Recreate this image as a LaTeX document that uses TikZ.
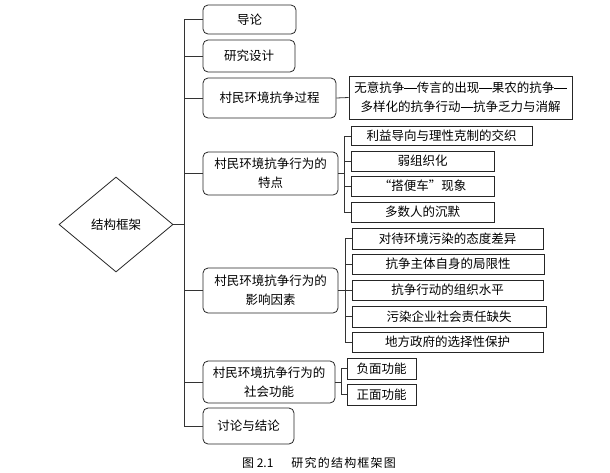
\documentclass[tikz,border=0pt]{standalone}
\usepackage{fontspec}
\newfontfamily\cjk{Noto Sans CJK SC}
\usetikzlibrary{shapes.geometric,shadows}
\newcommand\fwdash{\makebox[1em]{\rule[0.33em]{0.98em}{0.055em}}}
\begin{document}
\begin{tikzpicture}[x=1pt,y=-1pt,
  every node/.style={font=\cjk\fontsize{12.5}{19}\selectfont, inner sep=0pt, align=center},
  mainbox/.style={draw=black!85, line width=0.8pt, rounded corners=5pt},
  subbox/.style={draw=black!85, line width=0.8pt, fill=white,
     general shadow={shadow xshift=0.9pt, shadow yshift=-0.9pt, fill=black!75}},
  link/.style={draw=black!80, line width=0.8pt},
  capstyle/.style={font=\cjk\fontsize{12}{14}\selectfont}]
\useasboundingbox (0,0) rectangle (610,472);
% root
\node[diamond, draw=black!85, line width=0.8pt, minimum width=114pt, minimum height=95pt, aspect=1.2] (jg) at (116,224.5) {结构框架};
% main boxes
\node[mainbox, minimum width=93pt, minimum height=29pt] (daolun) at (249.5,19.5) {导论};
\node[mainbox, minimum width=92pt, minimum height=32pt] (sheji) at (249,56) {研究设计};
\node[mainbox, minimum width=133pt, minimum height=40pt] (guocheng) at (269.5,98) {村民环境抗争过程};
\node[mainbox, minimum width=135pt, minimum height=43pt] (tedian) at (270.5,173.5) {村民环境抗争行为的\\特点};
\node[mainbox, minimum width=135pt, minimum height=45pt] (yingxiang) at (270.5,290.5) {村民环境抗争行为的\\影响因素};
\node[mainbox, minimum width=132pt, minimum height=42pt] (gongneng) at (269,382) {村民环境抗争行为的\\社会功能};
\node[mainbox, minimum width=91pt, minimum height=36pt] (jielun) at (248.5,426) {讨论与结论};
% sub boxes
\node[subbox, minimum width=223pt, minimum height=43pt] (wuyi) at (460.5,97.5) {无意抗争\fwdash 传言的出现\fwdash 果农的抗争\fwdash\\多样化的抗争行动\fwdash 抗争乏力与消解};
\node[subbox, minimum width=181pt, minimum height=19pt] (liyi) at (441.5,136) {利益导向与理性克制的交织};
\node[subbox, minimum width=143pt, minimum height=20pt] (ruo) at (422.5,161) {弱组织化};
\node[subbox, minimum width=143pt, minimum height=20pt] (dabian) at (422.5,186) {“搭便车”现象};
\node[subbox, minimum width=143pt, minimum height=20pt] (duoshu) at (422.5,212) {多数人的沉默};
\node[subbox, minimum width=191pt, minimum height=21pt] (duidai) at (447.5,238.5) {对待环境污染的态度差异};
\node[subbox, minimum width=192pt, minimum height=20pt] (zhuti) at (448,264) {抗争主体自身的局限性};
\node[subbox, minimum width=191pt, minimum height=20pt] (xingdong) at (447.5,290) {抗争行动的组织水平};
\node[subbox, minimum width=194pt, minimum height=21pt] (qiye) at (449,316.5) {污染企业社会责任缺失};
\node[subbox, minimum width=191pt, minimum height=20pt] (zhengfu) at (447.5,342) {地方政府的选择性保护};
\node[subbox, minimum width=69pt, minimum height=21pt] (fumian) at (381.5,368.5) {负面功能};
\node[subbox, minimum width=69pt, minimum height=21pt] (zhengmian) at (381.5,394.5) {正面功能};
% trunk
\coordinate (tr) at (184,0);
\draw[link] (daolun.west) -| (tr |- jielun.west) -- (jielun.west);
\draw[link] (jg.east) -- (jg.east -| tr);
\foreach \n in {sheji,guocheng,tedian,yingxiang,gongneng} \draw[link] (\n.west) -- (\n.west -| tr);
% process
\draw[link] (guocheng.east) -- (wuyi.west);
% features
\coordinate (ta) at (344,0);
\draw[link] (liyi.west) -| (ta |- duoshu.west) -- (duoshu.west);
\draw[link] (tedian.east) -- (tedian.east -| ta);
\foreach \n in {ruo,dabian} \draw[link] (\n.west) -- (\n.west -| ta);
% factors
\coordinate (tb) at (345,0);
\draw[link] (duidai.west) -| (tb |- zhengfu.west) -- (zhengfu.west);
\draw[link] (yingxiang.east) -- (yingxiang.east -| tb);
\foreach \n in {zhuti,xingdong,qiye} \draw[link] (\n.west) -- (\n.west -| tb);
% functions
\coordinate (tc) at (341.5,0);
\draw[link] (fumian.west) -| (tc |- zhengmian.west) -- (zhengmian.west);
\draw[link] (gongneng.east) -- (gongneng.east -| tc);
% caption
\node[capstyle] (cap) at (319,463) {图 2.1\hspace{1.5em}研\hspace{0.1em}究\hspace{0.1em}的\hspace{0.1em}结\hspace{0.1em}构\hspace{0.1em}框\hspace{0.1em}架\hspace{0.1em}图};
\end{tikzpicture}
\end{document}
